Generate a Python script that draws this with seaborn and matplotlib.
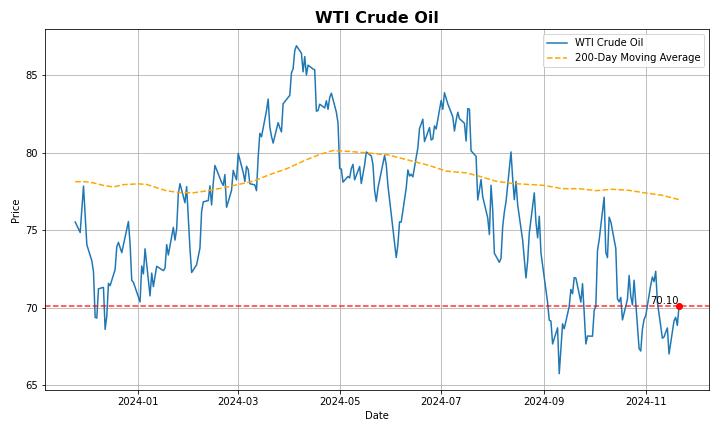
import pandas as pd
import numpy as np
import matplotlib
matplotlib.use('Agg')
import matplotlib.pyplot as plt
import seaborn as sns

# daily closes, WTI front month
nov23 = [75.54, 74.86, 76.41, 77.86, 75.96]
dec23 = [74.07, 73.04, 72.32, 69.38, 69.34, 71.23, 71.32, 68.61, 69.47, 71.58,
         71.43, 72.47, 73.94, 74.22, 73.89, 73.56, 75.57, 74.11, 71.77, 71.65]
jan24 = [70.38, 72.70, 72.19, 73.81, 70.77, 72.24, 71.37, 72.02, 72.68, 72.40,
         72.56, 74.08, 73.41, 75.19, 74.37, 75.09, 77.36, 78.01, 76.78, 77.82, 75.85]
feb24 = [73.82, 72.28, 72.78, 73.31, 73.86, 76.22, 76.84, 76.92, 77.87, 76.64,
         78.03, 79.19, 78.10, 77.90, 78.60, 76.49, 77.58, 78.87, 78.54, 78.26]
mar24 = [79.97, 78.74, 78.15, 79.13, 78.93, 78.01, 77.93, 77.56, 79.72, 81.26,
         81.04, 82.72, 83.47, 81.68, 81.07, 80.63, 81.95, 81.62, 81.35, 83.17]
apr24 = [83.71, 85.15, 85.43, 86.59, 86.91, 86.43, 85.23, 86.21, 85.02, 85.66,
         85.41, 85.36, 82.69, 82.73, 83.14, 82.90, 83.36, 82.81, 83.57, 83.85,
         82.63, 81.93]
may24 = [79.00, 78.95, 78.11, 78.48, 78.38, 78.99, 79.26, 78.26, 79.12, 78.02,
         78.63, 79.23, 80.06, 79.80, 79.26, 77.57, 76.87, 77.72, 79.83, 79.23,
         77.91, 76.99]
jun24 = [74.22, 73.25, 74.07, 75.55, 75.53, 77.74, 78.90, 78.50, 78.62, 78.45,
         80.33, 81.57, 82.17, 80.73, 81.63, 80.83, 80.90, 81.74, 81.54]
jul24 = [83.38, 82.81, 83.88, 83.16, 82.33, 81.41, 82.10, 82.62, 82.21, 81.91,
         80.76, 82.85, 82.82, 80.13, 79.78, 76.96, 77.59, 78.28, 77.16, 75.81,
         74.73, 77.91]
aug24 = [76.31, 73.52, 72.94, 73.20, 75.23, 76.19, 76.84, 80.06, 78.35, 76.98,
         78.16, 76.65, 74.37, 73.17, 71.93, 73.01, 74.83, 77.42, 75.53, 74.52,
         75.91, 73.55]
sep24 = [70.34, 69.20, 69.15, 67.67, 68.71, 65.75, 67.31, 68.97, 68.65, 70.09,
         71.19, 70.91, 71.95, 71.92, 70.37, 71.56, 69.69, 67.67, 68.18, 68.17]
oct24 = [69.83, 70.10, 73.71, 74.38, 77.14, 73.57, 73.24, 75.85, 75.56, 73.83,
         70.58, 70.39, 70.67, 69.22, 70.56, 72.09, 70.77, 70.19, 71.78, 67.38,
         67.21, 68.61, 69.26]
nov24 = [69.49, 71.47, 71.99, 71.69, 72.36, 70.38, 68.04, 68.12, 68.43, 68.70,
         67.02, 69.16, 69.39, 68.87, 70.10]

holidays = ['2023-12-25', '2024-01-01', '2024-01-15', '2024-02-19', '2024-03-29',
            '2024-05-27', '2024-06-19', '2024-07-04', '2024-09-02']

# 200-day moving average, read at points along the dashed curve
ma_dates = ['2023-11-24', '2023-11-30', '2023-12-05', '2023-12-11', '2023-12-17',
            '2023-12-23', '2024-01-01', '2024-01-06', '2024-01-12', '2024-01-18',
            '2024-01-26', '2024-02-03', '2024-02-11', '2024-02-21', '2024-03-01',
            '2024-03-10', '2024-03-20', '2024-03-30', '2024-04-09', '2024-04-19',
            '2024-04-27', '2024-05-07', '2024-05-17', '2024-05-30', '2024-06-14',
            '2024-06-24', '2024-07-04', '2024-07-16', '2024-07-24', '2024-08-03',
            '2024-08-13', '2024-08-31', '2024-09-12', '2024-09-22', '2024-10-02',
            '2024-10-12', '2024-10-22', '2024-11-01', '2024-11-11', '2024-11-21']
ma_values = [78.14, 78.14, 78.06, 77.90, 77.80, 77.95, 78.00, 77.96, 77.75, 77.55,
             77.44, 77.42, 77.55, 77.74, 77.96, 78.17, 78.60, 78.97, 79.46, 79.90,
             80.15, 80.09, 80.00, 79.87, 79.46, 79.18, 78.82, 78.71, 78.49, 78.17,
             78.02, 77.91, 77.69, 77.69, 77.56, 77.65, 77.58, 77.41, 77.26, 76.98]

prices = nov23 + dec23 + jan24 + feb24 + mar24 + apr24 + may24 + jun24 + jul24 + aug24 + sep24 + oct24 + nov24
dates = pd.bdate_range('2023-11-24', '2024-11-21', freq='C', holidays=holidays)

df = pd.DataFrame({'Date': dates, 'Close': prices})
ma = pd.DataFrame({'Date': pd.to_datetime(ma_dates), 'MA200': ma_values})

last_date = df['Date'].iloc[-1]
last_price = df['Close'].iloc[-1]

fig = plt.figure(figsize=(10, 6), dpi=72)
ax = fig.add_subplot(111)
sns.lineplot(x='Date', y='Close', data=df, label='WTI Crude Oil', ax=ax)
sns.lineplot(x='Date', y='MA200', data=ma, color='orange', linestyle='--', label='200-Day Moving Average', ax=ax)
ax.axhline(last_price, color='red', linestyle='--', linewidth=1.5, alpha=0.8)
ax.scatter([last_date], [last_price], color='red', zorder=5)
ax.text(last_date, last_price, f'{last_price:.2f}', ha='right', va='bottom', fontsize=10)

ax.set_title('WTI Crude Oil', fontsize=16, fontweight='bold')
ax.set_xlabel('Date')
ax.set_ylabel('Price')
ax.grid(True)
ax.legend(loc='upper right')
fig.subplots_adjust(left=0.0625, right=0.985, bottom=0.097, top=0.932)
plt.savefig('out.png', dpi=72)
